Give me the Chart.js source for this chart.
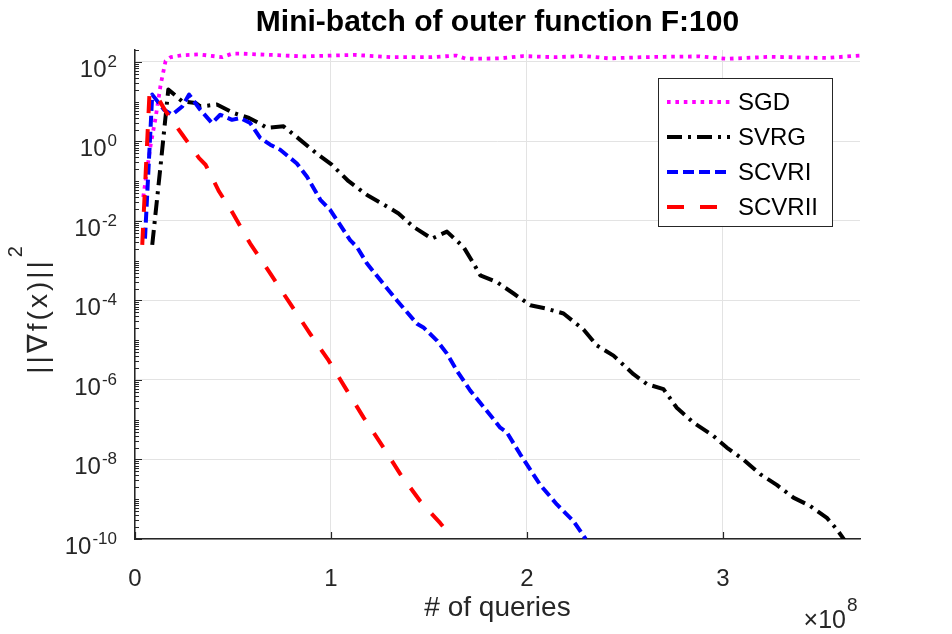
<!DOCTYPE html>
<html><head><meta charset="utf-8">
<script src="https://cdn.jsdelivr.net/npm/chart.js@4.4.1/dist/chart.umd.min.js"></script>
<style>html,body{margin:0;padding:0;background:#fff;overflow:hidden}</style>
</head><body>
<canvas id="c" width="952" height="634"></canvas>
<script>
const FONT = "'Liberation Sans',Arial,sans-serif";
const titleText = 'Mini-batch of outer function F:100';
const xLabelText = '# of queries';
const yLabelBase = '||\u2207f(x)||';
const yLabelExp = '2';
const xMultiplier = ['\u00d710', '8'];
const seriesNames = ['SGD', 'SVRG', 'SCVRI', 'SCVRII'];
const xTicks = [0, 1, 2, 3];
const yTickExps = [2, 0, -2, -4, -6, -8, -10];

// x in units of 1e8 queries
const xSGD = [0.042, 0.080, 0.105, 0.131, 0.156, 0.182, 0.241, 0.327, 0.445, 0.496, 0.540, 0.700, 0.860, 1.000, 1.120, 1.310, 1.510, 1.640, 1.690, 1.860, 1.980, 2.140, 2.290, 2.420, 2.590, 2.700, 2.880, 3.020, 3.240, 3.530, 3.660, 3.710];
const ySGD = [0.04, 0.83, 3.9, 27, 105, 132, 148, 155, 132, 162, 162, 150, 138, 145, 151, 132, 132, 145, 120, 123, 141, 132, 141, 123, 132, 135, 138, 120, 135, 126, 141, 145];

const xSVRG = [0.088, 0.131, 0.170, 0.241, 0.309, 0.333, 0.418, 0.503, 0.582, 0.633, 0.673, 0.758, 0.843, 0.929, 1.004, 1.090, 1.184, 1.260, 1.345, 1.421, 1.515, 1.592, 1.677, 1.728, 1.762, 1.847, 1.932, 2.017, 2.102, 2.187, 2.289, 2.357, 2.442, 2.544, 2.612, 2.697, 2.765, 2.850, 2.952, 3.020, 3.105, 3.190, 3.275, 3.360, 3.445, 3.531, 3.582, 3.620];
const ySVRG = [2.5e-3, 0.26, 20.4, 10.2, 9.3, 7.6, 8.5, 5.2, 3.9, 2.9, 2.2, 2.4, 1.1, 0.49, 0.26, 0.10, 0.045, 0.0275, 0.0155, 7.1e-3, 3.6e-3, 5.4e-3, 2.2e-3, 8.5e-4, 4.3e-4, 2.9e-4, 1.5e-4, 7.6e-5, 6.2e-5, 4.7e-5, 1.86e-5, 7.4e-6, 4.1e-6, 1.4e-6, 7.9e-7, 5.9e-7, 2.0e-7, 8.5e-8, 3.9e-8, 2.0e-8, 1.0e-8, 4.3e-9, 2.3e-9, 1.1e-9, 6.8e-10, 3.4e-10, 1.74e-10, 9.5e-11];

const xSCVRI = [0.051, 0.088, 0.148, 0.190, 0.241, 0.276, 0.333, 0.393, 0.435, 0.495, 0.537, 0.588, 0.639, 0.690, 0.741, 0.826, 0.878, 0.946, 0.996, 1.098, 1.133, 1.184, 1.268, 1.337, 1.439, 1.472, 1.541, 1.592, 1.643, 1.711, 1.796, 1.864, 1.898, 1.966, 2.068, 2.153, 2.238, 2.300];
const ySCVRI = [3.6e-3, 15.1, 6.3, 4.7, 7.6, 15.1, 6.3, 2.9, 4.7, 3.5, 3.9, 2.9, 1.23, 0.83, 0.62, 0.28, 0.13, 0.034, 0.019, 3.3e-3, 2.2e-3, 8.5e-4, 2.6e-4, 1.0e-4, 2.6e-5, 2.1e-5, 9.8e-6, 4.6e-6, 1.7e-6, 5.4e-7, 1.66e-7, 6.3e-8, 4.8e-8, 1.35e-8, 2.3e-9, 7.4e-10, 2.8e-10, 1.0e-10];

const xSCVRII = [0.037, 0.074, 0.122, 0.156, 0.241, 0.327, 0.360, 0.429, 0.495, 0.588, 0.690, 0.792, 0.894, 0.988, 1.082, 1.166, 1.268, 1.354, 1.456, 1.558, 1.600];
const ySCVRII = [2.5e-3, 16.6, 11.2, 5.8, 1.5, 0.38, 0.26, 0.055, 0.017, 2.7e-3, 4.8e-4, 8.3e-5, 1.45e-5, 3.1e-6, 5.4e-7, 1.15e-7, 2.0e-8, 4.3e-9, 8.9e-10, 2.5e-10, 1.4e-10];

const styles = [
  {color: '#ff00ff', dash: [3.6, 4.8], width: 3.8},
  {color: '#000000', dash: [15, 6, 3, 6], width: 4},
  {color: '#0000ff', dash: [11, 5], width: 4},
  {color: '#ff0000', dash: [17, 16], width: 4}
];
const xs = [xSGD, xSVRG, xSCVRI, xSCVRII];
const ys = [ySGD, ySVRG, ySCVRI, ySCVRII];

const datasets = seriesNames.map((name, i) => ({
  label: name,
  data: xs[i].map((x, j) => ({x: x, y: ys[i][j]})),
  borderColor: styles[i].color,
  borderWidth: styles[i].width,
  borderDash: styles[i].dash,
  borderCapStyle: 'butt',
  borderJoinStyle: 'round',
  pointRadius: 0,
  tension: 0,
  fill: false,
  order: 3 - i
}));

const AX = '#262626';

const decor = {
  id: 'decor',
  afterDraw(chart) {
    const ctx = chart.ctx;
    const xs_ = chart.scales.x, ys_ = chart.scales.y;
    const ca = chart.chartArea;
    ctx.save();
    // inward ticks
    ctx.strokeStyle = AX; ctx.lineWidth = 1.2;
    ctx.beginPath();
    xTicks.forEach(v => {
      const px = Math.round(xs_.getPixelForValue(v)) + 0.5;
      ctx.moveTo(px, ca.bottom); ctx.lineTo(px, ca.bottom - 7);
    });
    for (let e = -10; e <= 2; e++) {
      for (let k = 1; k <= 9; k++) {
        const v = k * Math.pow(10, e);
        if (v > ys_.max) continue;
        const py = Math.round(ys_.getPixelForValue(v)) + 0.5;
        const major = (k === 1 && yTickExps.includes(e));
        ctx.moveTo(ca.left, py); ctx.lineTo(ca.left + (major ? 7 : 4), py);
      }
    }
    ctx.stroke();
    // y tick labels 10^e
    ctx.fillStyle = AX;
    ctx.textBaseline = 'middle';
    yTickExps.forEach(e => {
      const py = ys_.getPixelForValue(Math.pow(10, e));
      const expStr = String(e);
      ctx.font = '17px ' + FONT;
      ctx.textAlign = 'right';
      const rx = 117;
      ctx.fillText(expStr, rx, py);
      const ew = ctx.measureText(expStr).width;
      ctx.font = '24px ' + FONT;
      ctx.fillText('10', rx - ew - 1, py + 8);
    });
    // x multiplier
    ctx.textAlign = 'right';
    ctx.font = '25px ' + FONT;
    ctx.fillText(xMultiplier[0], 846, 621);
    ctx.textAlign = 'left';
    ctx.font = '19px ' + FONT;
    ctx.fillText(xMultiplier[1], 847, 606);
    // x label
    ctx.textAlign = 'center';
    ctx.font = '28px ' + FONT;
    ctx.fillText(xLabelText, (ca.left + ca.right) / 2, 608);
    // title
    ctx.fillStyle = '#000';
    ctx.font = 'bold 30px ' + FONT;
    ctx.fillText(titleText, (ca.left + ca.right) / 2, 23);
    // y label
    ctx.fillStyle = AX;
    ctx.save();
    ctx.translate(39, 316);
    ctx.rotate(-Math.PI / 2);
    ctx.font = '28px ' + FONT;
    ctx.letterSpacing = '3px';
    ctx.textAlign = 'center';
    ctx.fillText(yLabelBase, 0, 0);
    const bw = ctx.measureText(yLabelBase).width;
    ctx.letterSpacing = '0px';
    ctx.font = '20px ' + FONT;
    ctx.textAlign = 'left';
    ctx.fillText(yLabelExp, bw / 2 + 1, -23);
    ctx.restore();
    // legend
    const L = 658, T = 78, R = 832, B = 226;
    ctx.fillStyle = '#fff';
    ctx.fillRect(L, T, R - L, B - T);
    ctx.strokeStyle = AX; ctx.lineWidth = 1;
    ctx.strokeRect(L + 0.5, T + 0.5, R - L, B - T);
    seriesNames.forEach((name, i) => {
      const cy = 102 + i * 35;
      ctx.save();
      ctx.strokeStyle = styles[i].color;
      ctx.lineWidth = styles[i].width;
      ctx.setLineDash(styles[i].dash);
      ctx.lineCap = 'butt';
      ctx.beginPath();
      ctx.moveTo(667, cy); ctx.lineTo(730, cy);
      ctx.stroke();
      ctx.restore();
      ctx.fillStyle = '#000';
      ctx.font = '24px ' + FONT;
      ctx.textAlign = 'left';
      ctx.textBaseline = 'middle';
      ctx.fillText(name, 738, cy + 1);
    });
    ctx.restore();
  }
};

new Chart(document.getElementById('c'), {
  type: 'line',
  data: {datasets: datasets},
  options: {
    responsive: false,
    animation: false,
    devicePixelRatio: 1,
    layout: {padding: {top: 50, right: 92, bottom: 0, left: 0}},
    plugins: {legend: {display: false}, title: {display: false}, tooltip: {enabled: false}},
    scales: {
      x: {
        type: 'linear', min: 0, max: 3.7,
        afterBuildTicks: s => { s.ticks = xTicks.map(v => ({value: v})); },
        afterFit: s => { s.height = 95; },
        ticks: {font: {size: 24, family: FONT}, color: AX, padding: 26, maxRotation: 0, autoSkip: false},
        grid: {color: '#e3e3e3', lineWidth: 1, drawTicks: false},
        border: {color: AX, width: 1.5}
      },
      y: {
        type: 'logarithmic', min: 1e-10, max: 200,
        afterBuildTicks: s => { s.ticks = yTickExps.map(e => ({value: Math.pow(10, e)})); },
        afterFit: s => { s.width = 135; },
        ticks: {display: false},
        grid: {color: '#e3e3e3', lineWidth: 1, drawTicks: false},
        border: {color: AX, width: 1.5}
      }
    }
  },
  plugins: [decor]
});
</script>
</body></html>
